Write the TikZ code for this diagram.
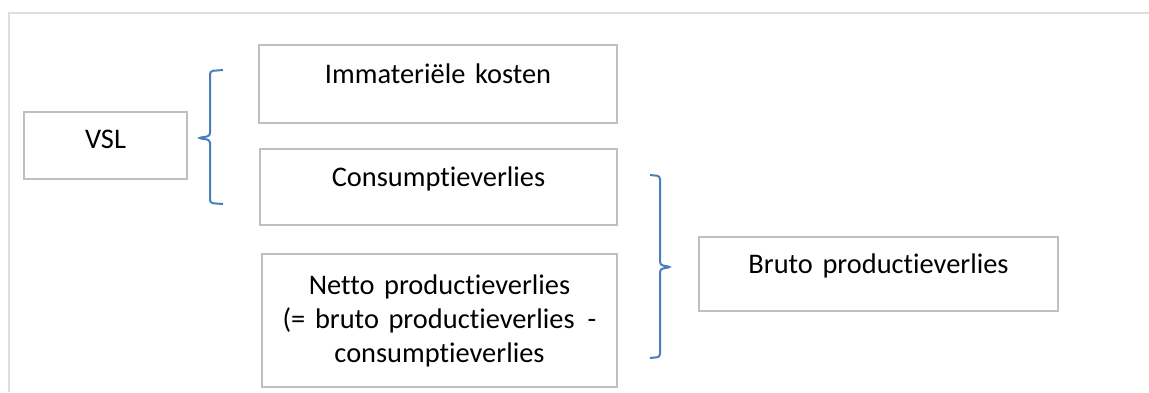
\documentclass[tikz,border=0pt]{standalone}
\usepackage{fontspec}
\setmainfont[Ligatures=NoCommon, WordSpace=1.5]{Carlito}
\definecolor{boxgray}{RGB}{191,191,191}
\definecolor{framegray}{RGB}{222,222,222}
\definecolor{braceblue}{RGB}{74,126,187}
\begin{document}
\begin{tikzpicture}[x=0.5pt,y=-0.5pt]
\tikzstyle{every node}+=[inner sep=0pt, font=\fontsize{14.2}{17}\selectfont]
\tikzstyle{box}=[draw=boxgray, line width=1pt, anchor=north west, align=center]
\tikzstyle{brace}=[braceblue, line width=1pt, rounded corners=1.5pt]
\useasboundingbox (0,0) rectangle (1149,392);
\draw [framegray, line width=1pt] (1149,13) -- (9,13) -- (9,392);

\node [box, minimum width=81.5pt, text height=18pt, text depth=15.5pt] (vsl) at (23,111) {VSL};

\node [box, minimum width=179pt, text height=19pt, text depth=20pt] (imm) at (258,44) {Immateriële kosten};
\node [box, minimum width=178.5pt, text height=18.5pt, text depth=19.5pt] (cons) at (259,148) {Consumptieverlies};
\node [box, minimum width=177.5pt, minimum height=66.5pt] (netto) at (261,253)
  {Netto productieverlies\\(= bruto productieverlies\hspace{6.5pt}-\\consumptieverlies};

\node [box, minimum width=179.5pt, text height=18pt, text depth=19pt] (bruto) at (698,236) {Bruto productieverlies};

\coordinate (lefttip) at (198,138);
\draw [brace] (223,70) -- (210,71) -- (210,136) -- (lefttip) -- (210,140) -- (210,203) -- (223,204);

\coordinate (righttip) at (671,267);
\draw [brace] (650,175) -- (660,176) -- (660,265) -- (righttip) -- (660,269) -- (660,357) -- (650,358);
\end{tikzpicture}
\end{document}
